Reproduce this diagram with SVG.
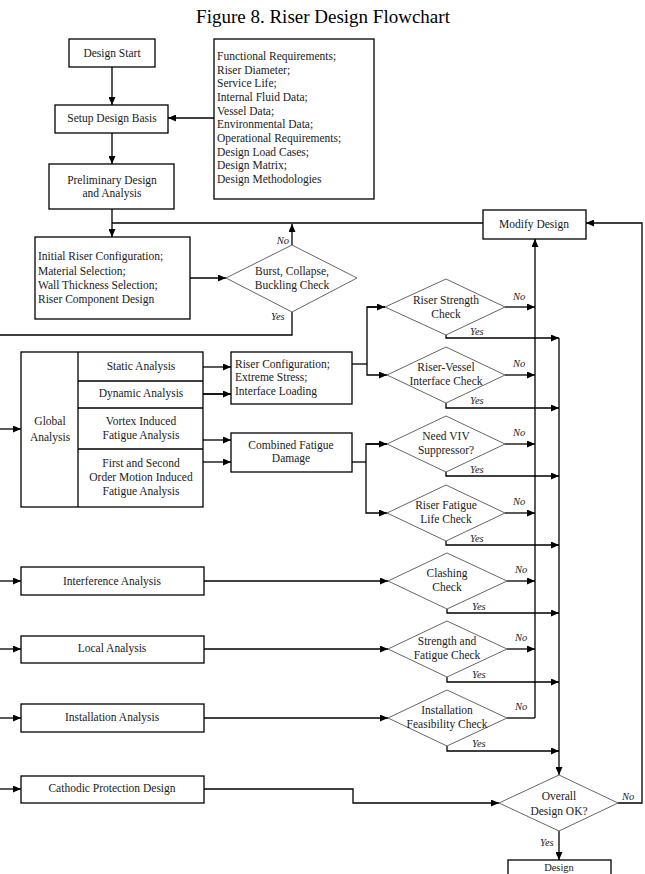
<svg xmlns="http://www.w3.org/2000/svg" width="645" height="874" viewBox="0 0 645 874">
<style>
.box{fill:#fff;stroke:#000;stroke-width:1.3}
.dia{fill:#fff;stroke:#666;stroke-width:1}
.ln{fill:none;stroke:#000;stroke-width:1.3}
.t{font-family:"Liberation Serif","Times New Roman",serif;font-size:11.5px;fill:#1a1a1a}
.c{text-anchor:middle}
.lab{font-family:"Liberation Serif","Times New Roman",serif;font-size:10.5px;font-style:italic;fill:#1a1a1a}
.title{font-family:"Liberation Serif","Times New Roman",serif;font-size:19px;fill:#000;text-anchor:middle}
</style>
<defs>
<marker id="ah" markerUnits="userSpaceOnUse" markerWidth="8" markerHeight="7" refX="8" refY="3.5" orient="auto">
<path d="M0,0 L8,3.5 L0,7 z" fill="#000"/>
</marker>
</defs>
<rect width="645" height="874" fill="#fff"/>
<text class="title" x="323" y="23">Figure 8. Riser Design Flowchart</text>

<g id="connectors">
<path class="ln" d="M112,67 V105" marker-end="url(#ah)"/>
<path class="ln" d="M112,133 V164" marker-end="url(#ah)"/>
<path class="ln" d="M214,118 H168" marker-end="url(#ah)"/>
<path class="ln" d="M112,209 V237" marker-end="url(#ah)"/>
<path class="ln" d="M483,223 H112"/>
<path class="ln" d="M190,278 H226" marker-end="url(#ah)"/>
<path class="ln" d="M292,245 V224" marker-end="url(#ah)"/>
<path class="ln" d="M292,312 V335 H0"/>
<path class="ln" d="M618,803 H642 V223 H586" marker-end="url(#ah)"/>
<path class="ln" d="M535,718 V239" marker-end="url(#ah)"/>
<path class="ln" d="M505,307 H535" marker-end="url(#ah)"/>
<path class="ln" d="M505,375 H535" marker-end="url(#ah)"/>
<path class="ln" d="M505,444 H535" marker-end="url(#ah)"/>
<path class="ln" d="M505,513 H535" marker-end="url(#ah)"/>
<path class="ln" d="M507,581 H535" marker-end="url(#ah)"/>
<path class="ln" d="M507,649 H535" marker-end="url(#ah)"/>
<path class="ln" d="M507,718 H535"/>
<path class="ln" d="M446,335 V338 H559" marker-end="url(#ah)"/>
<path class="ln" d="M446,403 V408 H559" marker-end="url(#ah)"/>
<path class="ln" d="M446,472 V476 H559" marker-end="url(#ah)"/>
<path class="ln" d="M446,541 V545 H559" marker-end="url(#ah)"/>
<path class="ln" d="M447,609 V613 H559" marker-end="url(#ah)"/>
<path class="ln" d="M447,677 V682 H559" marker-end="url(#ah)"/>
<path class="ln" d="M447,746 V751 H559" marker-end="url(#ah)"/>
<path class="ln" d="M559,338 V775" marker-end="url(#ah)"/>
<path class="ln" d="M352,364 H367"/>
<path class="ln" d="M385,307 H367 V375 H387" marker-end="url(#ah)"/>
<path class="ln" d="M367,307 H385" marker-end="url(#ah)"/>
<path class="ln" d="M352,462 H366"/>
<path class="ln" d="M387,444 H366 V513 H387" marker-end="url(#ah)"/>
<path class="ln" d="M366,444 H387" marker-end="url(#ah)"/>
<path class="ln" d="M203,367 H231" marker-end="url(#ah)"/>
<path class="ln" d="M203,394 H231" marker-end="url(#ah)" style="stroke-width:1.8"/>
<path class="ln" d="M203,440 H231" marker-end="url(#ah)"/>
<path class="ln" d="M203,462 H231" marker-end="url(#ah)"/>
<path class="ln" d="M0,429 H21" marker-end="url(#ah)"/>
<path class="ln" d="M0,581 H21" marker-end="url(#ah)"/>
<path class="ln" d="M204,581 H388" marker-end="url(#ah)"/>
<path class="ln" d="M0,649 H21" marker-end="url(#ah)"/>
<path class="ln" d="M204,649 H388" marker-end="url(#ah)"/>
<path class="ln" d="M0,718 H21" marker-end="url(#ah)"/>
<path class="ln" d="M204,718 H388" marker-end="url(#ah)"/>
<path class="ln" d="M0,789 H21" marker-end="url(#ah)"/>
<path class="ln" d="M204,789 H353 V803 H499" marker-end="url(#ah)"/>
<path class="ln" d="M559,831 V860" marker-end="url(#ah)"/>
<text class="lab" x="289" y="244" text-anchor="end">No</text>
<text class="lab" x="271" y="320">Yes</text>
<text class="lab" x="513" y="300">No</text>
<text class="lab" x="470" y="335">Yes</text>
<text class="lab" x="513" y="367">No</text>
<text class="lab" x="470" y="404">Yes</text>
<text class="lab" x="513" y="436">No</text>
<text class="lab" x="470" y="473">Yes</text>
<text class="lab" x="513" y="505">No</text>
<text class="lab" x="470" y="542">Yes</text>
<text class="lab" x="515" y="573">No</text>
<text class="lab" x="472" y="610">Yes</text>
<text class="lab" x="515" y="641">No</text>
<text class="lab" x="472" y="678">Yes</text>
<text class="lab" x="515" y="710">No</text>
<text class="lab" x="472" y="747">Yes</text>
<text class="lab" x="622" y="800">No</text>
<text class="lab" x="540" y="846">Yes</text>
</g>

<g id="design-start"><rect class="box" x="69" y="39" width="86" height="28"/><text class="t c" x="112" y="57">Design Start</text></g>
<g id="setup-basis"><rect class="box" x="55" y="105" width="113" height="28"/><text class="t c" x="112" y="122">Setup Design Basis</text></g>
<g id="basis-inputs"><rect class="box" x="214" y="39" width="160" height="160"/>
<text class="t" x="217" y="60">Functional Requirements;</text>
<text class="t" x="217" y="74">Riser Diameter;</text>
<text class="t" x="217" y="87">Service Life;</text>
<text class="t" x="217" y="101">Internal Fluid Data;</text>
<text class="t" x="217" y="115">Vessel Data;</text>
<text class="t" x="217" y="128">Environmental Data;</text>
<text class="t" x="217" y="142">Operational Requirements;</text>
<text class="t" x="217" y="156">Design Load Cases;</text>
<text class="t" x="217" y="169">Design Matrix;</text>
<text class="t" x="217" y="183">Design Methodologies</text></g>
<g id="preliminary"><rect class="box" x="49" y="164" width="125" height="45"/><text class="t c" x="112" y="184">Preliminary Design</text><text class="t c" x="112" y="197">and Analysis</text></g>
<g id="initial-config"><rect class="box" x="35" y="237" width="155" height="82"/>
<text class="t" x="38" y="260">Initial Riser Configuration;</text>
<text class="t" x="38" y="275">Material Selection;</text>
<text class="t" x="38" y="289">Wall Thickness Selection;</text>
<text class="t" x="38" y="303">Riser Component Design</text></g>
<g id="burst-check"><polygon class="dia" points="292,245 357,278 292,312 226,278"/><text class="t c" x="292" y="275">Burst, Collapse,</text><text class="t c" x="292" y="289">Buckling Check</text></g>
<g id="modify-design"><rect class="box" x="483" y="210" width="103" height="29"/><text class="t c" x="534" y="228">Modify Design</text></g>
<g id="strength-check"><polygon class="dia" points="446,279 505,307 446,335 385,307"/><text class="t c" x="446" y="304">Riser Strength</text><text class="t c" x="446" y="318">Check</text></g>
<g id="vessel-check"><polygon class="dia" points="446,347 505,375 446,403 387,375"/><text class="t c" x="446" y="371">Riser-Vessel</text><text class="t c" x="446" y="385">Interface Check</text></g>
<g id="viv-check"><polygon class="dia" points="446,416 505,444 446,472 387,444"/><text class="t c" x="446" y="440">Need VIV</text><text class="t c" x="446" y="454">Suppressor?</text></g>
<g id="fatigue-check"><polygon class="dia" points="446,485 505,513 446,541 387,513"/><text class="t c" x="446" y="509">Riser Fatigue</text><text class="t c" x="446" y="523">Life Check</text></g>
<g id="global-analysis"><rect class="box" x="21" y="352" width="182" height="155"/>
<path class="ln" d="M78,352 V507 M78,381 H203 M78,408 H203 M78,449 H203"/>
<text class="t c" x="50" y="425">Global</text><text class="t c" x="50" y="441">Analysis</text>
<text class="t c" x="141" y="370">Static Analysis</text>
<text class="t c" x="141" y="397">Dynamic Analysis</text>
<text class="t c" x="141" y="425">Vortex Induced</text><text class="t c" x="141" y="439">Fatigue Analysis</text>
<text class="t c" x="141" y="467">First and Second</text><text class="t c" x="141" y="481">Order Motion Induced</text><text class="t c" x="141" y="495">Fatigue Analysis</text></g>
<g id="riser-config"><rect class="box" x="231" y="352" width="121" height="52"/>
<text class="t" x="235" y="368">Riser Configuration;</text><text class="t" x="235" y="381">Extreme Stress;</text><text class="t" x="235" y="395">Interface Loading</text></g>
<g id="combined-fatigue"><rect class="box" x="231" y="433" width="121" height="39"/><text class="t c" x="291" y="449">Combined Fatigue</text><text class="t c" x="291" y="462">Damage</text></g>
<g id="interference"><rect class="box" x="21" y="567" width="183" height="28"/><text class="t c" x="112" y="585">Interference Analysis</text></g>
<g id="clashing"><polygon class="dia" points="447,553 507,581 447,609 388,581"/><text class="t c" x="447" y="577">Clashing</text><text class="t c" x="447" y="591">Check</text></g>
<g id="local"><rect class="box" x="21" y="636" width="183" height="27"/><text class="t c" x="112" y="652">Local Analysis</text></g>
<g id="strength-fatigue"><polygon class="dia" points="447,621 507,649 447,677 388,649"/><text class="t c" x="447" y="645">Strength and</text><text class="t c" x="447" y="659">Fatigue Check</text></g>
<g id="installation"><rect class="box" x="21" y="704" width="183" height="28"/><text class="t c" x="112" y="721">Installation Analysis</text></g>
<g id="installation-check"><polygon class="dia" points="447,690 507,718 447,746 388,718"/><text class="t c" x="447" y="714">Installation</text><text class="t c" x="447" y="728">Feasibility Check</text></g>
<g id="cathodic"><rect class="box" x="21" y="776" width="183" height="27"/><text class="t c" x="112" y="792">Cathodic Protection Design</text></g>
<g id="overall"><polygon class="dia" points="559,775 618,803 559,831 499,803"/><text class="t c" x="559" y="800">Overall</text><text class="t c" x="559" y="815">Design OK?</text></g>
<g id="design-end"><rect class="box" x="508" y="860" width="103" height="24"/><text class="t c" x="559" y="871" style="font-size:10.5px">Design</text></g>
</svg>
